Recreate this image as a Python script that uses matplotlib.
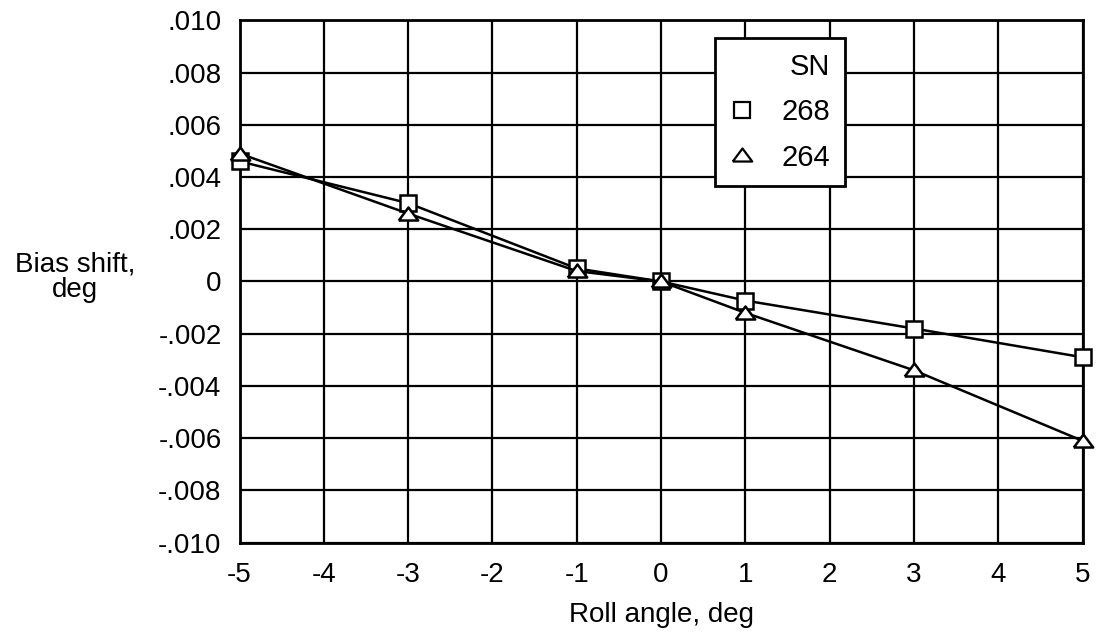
import numpy as np
import matplotlib.pyplot as plt
from matplotlib.lines import Line2D

plt.rcParams['font.family'] = ['Liberation Sans', 'DejaVu Sans']

roll_angle = [-5, -3, -1, 0, 1, 3, 5]
sn_268 = [0.0046, 0.0030, 0.0005, 0.0, -0.00073, -0.0018, -0.0029]
sn_264 = [0.0049, 0.0026, 0.0004, 0.0, -0.0012, -0.0034, -0.0061]
x_ticks = [-5, -4, -3, -2, -1, 0, 1, 2, 3, 4, 5]
y_ticks = [0.010, 0.008, 0.006, 0.004, 0.002, 0, -0.002, -0.004, -0.006, -0.008, -0.010]
y_labels = [".010", ".008", ".006", ".004", ".002", "0",
            "-.002", "-.004", "-.006", "-.008", "-.010"]

# wide, flat triangle like the scanned original
tri = [(-1, -0.62), (1, -0.62), (0, 0.72), (-1, -0.62)]

fig = plt.figure(figsize=(10.99, 6.34), dpi=100)
ax = fig.add_axes([0.218, 0.144, 0.767, 0.824])

ax.plot(roll_angle, sn_268, color='black', lw=1.8, marker='s', ms=12,
        mfc='white', mec='black', mew=1.8, clip_on=False, zorder=3)
ax.plot(roll_angle, sn_264, color='black', lw=1.8, marker=tri, ms=14,
        mfc='white', mec='black', mew=1.8, clip_on=False, zorder=3)

ax.set_xlim(-5, 5)
ax.set_ylim(-0.010, 0.010)
ax.set_xticks(x_ticks)
ax.set_xticklabels([str(t) for t in x_ticks])
ax.set_yticks(y_ticks)
ax.set_yticklabels(y_labels)
ax.tick_params(axis='both', length=0, labelsize=20)
ax.tick_params(axis='y', pad=13)
ax.tick_params(axis='x', pad=14)
ax.grid(True, color='black', lw=1.6)
for s in ax.spines.values():
    s.set_linewidth(2)

ax.set_xlabel("Roll angle, deg", fontsize=20, labelpad=10)
fig.text(0.068, 0.563, "Bias shift,\ndeg", fontsize=20, ha='center',
         va='center', linespacing=0.95)

handles = [Line2D([], [], ls='none', marker='s', ms=12, mfc='white',
                  mec='black', mew=1.6),
           Line2D([], [], ls='none', marker=tri, ms=14, mfc='white',
                  mec='black', mew=1.6)]
leg = ax.legend(handles, ["268", "264"], title="SN", loc='upper left',
                bbox_to_anchor=(0.5635, 0.966), fontsize=21, title_fontsize=21,
                frameon=True, fancybox=False, framealpha=1, edgecolor='black',
                handlelength=0.9, handletextpad=0.9, labelspacing=0.6,
                borderpad=0.5, borderaxespad=0, alignment='right')
leg.get_frame().set_linewidth(2)
leg.set_zorder(5)

fig.savefig("out.png", dpi=100)
